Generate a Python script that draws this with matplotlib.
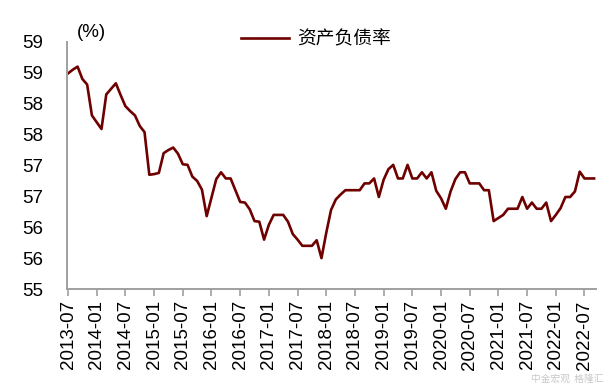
import pandas as pd
import matplotlib
matplotlib.use("Agg")
import matplotlib.pyplot as plt

plt.rcParams['font.family'] = ['Liberation Sans', 'Noto Sans CJK SC', 'DejaVu Sans']

# 资产负债率 (%), monthly, 2013-07 .. 2022-09
ratio = [
    58.49, 58.55, 58.60, 58.40, 58.31, 57.81, 57.70, 57.59, 58.15, 58.24,
    58.33, 58.14, 57.96, 57.88, 57.81, 57.64, 57.54, 56.85, 56.86, 56.88,
    57.20, 57.25, 57.29, 57.19, 57.02, 57.01, 56.82, 56.75, 56.61, 56.18,
    56.48, 56.78, 56.89, 56.79, 56.79, 56.60, 56.41, 56.40, 56.29, 56.10,
    56.09, 55.80, 56.04, 56.20, 56.20, 56.20, 56.09, 55.89, 55.80, 55.70,
    55.70, 55.70, 55.79, 55.50, 55.91, 56.28, 56.45, 56.53, 56.60, 56.60,
    56.60, 56.60, 56.71, 56.71, 56.79, 56.49, 56.77, 56.94, 57.01, 56.79,
    56.79, 57.01, 56.79, 56.79, 56.89, 56.79, 56.89, 56.59, 56.47, 56.30,
    56.58, 56.78, 56.89, 56.89, 56.71, 56.71, 56.71, 56.60, 56.60, 56.10,
    56.15, 56.20, 56.30, 56.30, 56.30, 56.49, 56.30, 56.40, 56.30, 56.30,
    56.40, 56.10, 56.20, 56.31, 56.49, 56.49, 56.58, 56.90, 56.79, 56.79,
    56.79,
]
months = pd.period_range("2013-07", periods=len(ratio), freq="M")
labels = [str(p) for p in months]

y_ticks = [55.0, 55.5, 56.0, 56.5, 57.0, 57.5, 58.0, 58.5, 59.0]
y_labels = ["55", "56", "56", "57", "57", "58", "58", "59", "59"]

fig = plt.figure(figsize=(6.13, 3.88), dpi=100)
ax = fig.add_axes([0.109, 0.255, 0.864, 0.637])

x = list(range(len(ratio)))
ax.plot(x, ratio, color="#6e0000", lw=1.9, label="资产负债率")

ax.set_xlim(-0.25, 110.5)
ax.set_ylim(55, 59)
ax.set_yticks(y_ticks)
ax.set_yticklabels(y_labels, fontsize=13.5)
ax.set_xticks(x[::6])
ax.set_xticklabels(labels[::6], rotation=90, fontsize=13.5)

for s in ["top", "right"]:
    ax.spines[s].set_visible(False)
for s in ["left", "bottom"]:
    ax.spines[s].set_color("#a0a0a0")
    ax.spines[s].set_linewidth(1.4)
ax.tick_params(axis="y", length=0, pad=17)
ax.tick_params(axis="x", length=5, width=1.2, color="#a0a0a0", pad=3)

fig.text(0.125, 0.905, "(%)", fontsize=13.5)
fig.legend(loc="center", bbox_to_anchor=(0.515, 0.9), frameon=False,
           prop={"family": ["Noto Sans CJK SC"], "size": 13.5},
           handlelength=2.6, handletextpad=0.4)

# watermark, kept faint and below the tick labels
fig.text(0.985, 0.012, "中金宏观  格隆汇", fontsize=7, color="#c8c8c8",
         ha="right", va="bottom", family=["Noto Sans CJK SC"])

fig.savefig("out.png", dpi=100)
